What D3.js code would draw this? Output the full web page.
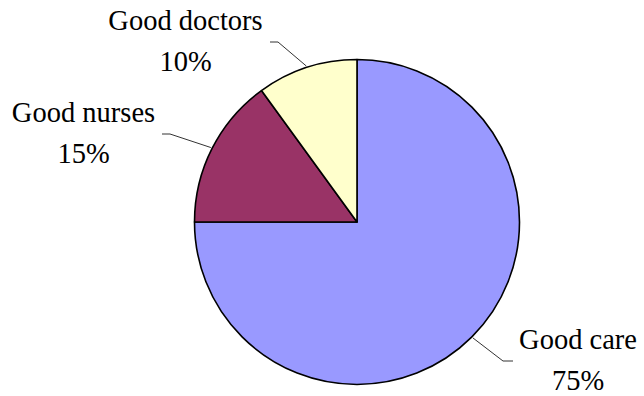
<!DOCTYPE html>
<html><head><meta charset="utf-8">
<script src="https://cdn.jsdelivr.net/npm/d3@7"></script>
<style>html,body{margin:0;padding:0;background:#fff;}</style>
</head><body>
<svg id="chart" width="644" height="396"></svg>
<script>
const categories = ["Good care", "Good nurses", "Good doctors"];
const values = [75, 15, 10];
const percentLabels = ["75%", "15%", "10%"];
const colors = ["#9999FF", "#993366", "#FFFFCC"];

// layout only: leader-line elbow points (relative to pie centre) and label centre offsets
const elbows = [[146, 139], [-187, -88], [-79, -180]];
const labelDx = [75, -86.5, -92.5];

const cx = 357, cy = 222, R = 162.5;
const svg = d3.select("#chart");
const g = svg.append("g").attr("transform", `translate(${cx},${cy})`);

const data = categories.map((c, i) => ({cat: c, value: values[i], pct: percentLabels[i], color: colors[i]}));
const pie = d3.pie().sort(null).value(d => d.value).startAngle(0).endAngle(2 * Math.PI);
const arcs = pie(data);
const arc = d3.arc().innerRadius(0).outerRadius(R);

g.selectAll("path.slice").data(arcs).enter().append("path")
  .attr("class", "slice")
  .attr("d", arc)
  .attr("fill", d => d.data.color)
  .attr("stroke", "#000")
  .attr("stroke-width", 1.6)
  .attr("stroke-linejoin", "round");

const FAMILY = '"Liberation Serif", "Times New Roman", Tinos, serif';
arcs.forEach((a, i) => {
  const mid = (a.startAngle + a.endAngle) / 2;
  const sx = Math.sin(mid), sy = -Math.cos(mid);
  const p0 = [sx * (R + 1.5), sy * (R + 1.5)];
  const p1 = elbows[i];
  const right = p1[0] > 0;
  const p2 = [p1[0] + (right ? 10 : -8), p1[1]];
  g.append("polyline")
    .attr("points", [p0, p1, p2].map(p => p.join(",")).join(" "))
    .attr("fill", "none").attr("stroke", "#333").attr("stroke-width", 1);
});

arcs.forEach((a, i) => {
  const p1 = elbows[i];
  const centerX = cx + p1[0] + labelDx[i];
  svg.append("text").attr("class", "lbl")
    .attr("x", centerX).attr("y", cy + p1[1] - 12)
    .text(a.data.cat);
  svg.append("text").attr("class", "lbl")
    .attr("x", centerX).attr("y", cy + p1[1] + 29)
    .text(a.data.pct);
});
svg.selectAll("text.lbl")
  .attr("text-anchor", "middle").attr("fill", "#000")
  .attr("font-family", FAMILY).attr("font-size", 28.5)
  .style("font-family", FAMILY).style("font-size", "28.5px");
</script>
</body></html>
